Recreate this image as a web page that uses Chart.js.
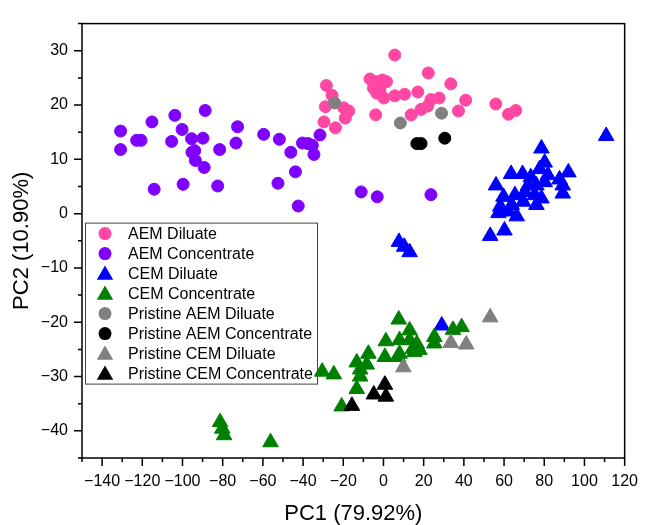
<!DOCTYPE html>
<html lang="en">
<head>
<meta charset="UTF-8">
<style>
body {
    margin: 0;
    background: #fff;
}
.chart-container {
    position: relative;
    width: 652px;
    height: 525px;
}
</style>
</head>
<body>
<div class="chart-container">
<canvas id="pcaChart"></canvas>
</div>
<script src="https://cdn.jsdelivr.net/npm/chart.js"></script>
<script>
// series
const seriesNames = ['AEM Diluate', 'AEM Concentrate', 'CEM Diluate', 'CEM Concentrate',
    'Pristine AEM Diluate', 'Pristine AEM Concentrate', 'Pristine CEM Diluate', 'Pristine CEM Concentrate'];
const seriesColors = ['#ff47a3', '#8000ff', '#0000ff', '#008000', '#808080', '#000000', '#808080', '#000000'];
const seriesShapes = ['circle', 'circle', 'triangle', 'triangle', 'circle', 'circle', 'triangle', 'triangle'];

// PC1 / PC2 scores
const aemDiluateX = [-28.4, -25.6, -28.9, -19.8, -17.3, -19.0, -29.6, -23.9, 5.6, -6.7, -3.4, -0.5, 1.5, -5.0, -1.8, 0.2, -3.4,
    5.6, 10.5, 17.1, 22.3, 33.5, 23.6, 27.7, 22.0, 18.7, 13.8, -3.9, 40.9, 37.3, 55.9, 62.2, 65.8];
const aemDiluateY = [23.6, 21.8, 19.7, 19.5, 18.9, 17.6, 16.9, 15.8, 29.2, 24.8, 24.3, 24.6, 24.3, 23.1, 22.8, 21.3, 22.2,
    21.7, 22.0, 22.4, 25.9, 23.9, 21.0, 21.3, 19.8, 19.2, 18.2, 18.2, 20.9, 18.9, 20.2, 18.3, 19.0];

const aemConcX = [-130.8, -130.8, -122.8, -120.6, -115.2, -114.1, -103.8, -105.4, -100.2, -99.7, -95.5, -95.3, -93.9, -93.6,
    -88.7, -89.8, -89.2, -81.5, -82.5, -72.6, -73.4, -59.6, -51.8, -52.5, -46.1, -43.8, -42.4, -40.3, -37.5, -35.4, -34.6,
    -31.6, -11.1, -3.1, 23.6];
const aemConcY = [15.2, 11.8, 13.5, 13.5, 16.9, 4.5, 18.1, 13.3, 15.5, 5.4, 13.8, 11.3, 11.6, 9.8,
    19.0, 13.9, 8.5, 11.8, 5.1, 16.0, 13.0, 14.6, 13.7, 5.6, 11.3, 7.7, 1.4, 13.0, 12.9, 12.6, 10.9,
    14.5, 4.0, 3.1, 3.5];

const cemDiluateX = [78.6, 80.2, 77.7, 63.5, 69.2, 73.3, 81.8, 87.6, 92.0, 56.0, 72.0, 76.1, 80.2, 89.2, 89.2, 59.7, 65.4,
    70.4, 75.3, 78.6, 58.1, 63.8, 69.5, 76.1, 57.2, 62.2, 66.3, 53.1, 60.2, 110.8, 7.7, 10.3, 13.0, 29.0];
const cemDiluateY = [12.0, 9.4, 8.2, 7.3, 7.3, 6.7, 7.1, 6.3, 7.6, 5.2, 5.2, 5.2, 5.8, 5.2, 3.7, 3.1, 3.4,
    4.0, 3.4, 2.8, 1.3, 1.6, 2.2, 1.6, 0.1, 0.4, -0.5, -4.1, -3.1, 14.3, -5.2, -6.1, -7.1, -20.6];

const cemConcX = [7.6, 13.0, 1.2, 8.0, 13.0, 16.6, 25.3, 25.3, 17.9, 34.6, 38.9, -7.5, -13.3, 0.7, 7.2, 15.4, -8.3,
    -11.6, -11.6, -30.5, -24.7, -13.3, -20.8, -81.3, -80.2, -79.3, -56.2, 8.0, 14.6];
const cemConcY = [-19.5, -21.5, -23.5, -23.3, -23.3, -24.0, -22.7, -23.9, -25.1, -21.4, -20.9, -25.8, -27.4, -26.4, -26.4, -25.5, -27.8,
    -28.7, -30.0, -29.1, -29.6, -32.3, -35.5, -38.4, -39.6, -40.8, -42.1, -25.8, -24.9];

const pristineAemDilX = [-24.3, 8.4, 28.9];
const pristineAemDilY = [20.4, 16.7, 18.5];
const pristineAemConcX = [16.6, 18.7, 30.5];
const pristineAemConcY = [12.9, 12.9, 13.9];
const pristineCemDilX = [9.9, 33.5, 41.2, 53.1];
const pristineCemDilY = [-28.3, -23.8, -24.1, -19.1];
const pristineCemConcX = [0.7, -4.8, 1.2, -15.7];
const pristineCemConcY = [-31.5, -33.3, -33.7, -35.4];

// axis ticks
const xTicks = [-150, -140, -130, -120, -110, -100, -90, -80, -70, -60, -50, -40, -30, -20, -10,
    0, 10, 20, 30, 40, 50, 60, 70, 80, 90, 100, 110, 120];
const yTicks = [-45, -40, -35, -30, -25, -20, -15, -10, -5, 0, 5, 10, 15, 20, 25, 30, 35];

const seriesX = [aemDiluateX, aemConcX, cemDiluateX, cemConcX, pristineAemDilX, pristineAemConcX, pristineCemDilX, pristineCemConcX];
const seriesY = [aemDiluateY, aemConcY, cemDiluateY, cemConcY, pristineAemDilY, pristineAemConcY, pristineCemDilY, pristineCemConcY];

const fontFamily = "'Liberation Sans', Arial, sans-serif";
const minus = (v) => String(v).replace('-', '\u2212');

const datasets = seriesNames.map((name, i) => ({
    label: name,
    data: seriesX[i].map((x, j) => ({ x: x, y: seriesY[i][j] })),
    pointStyle: seriesShapes[i],
    pointRadius: seriesShapes[i] === 'circle' ? 6 : 9,
    pointHoverRadius: seriesShapes[i] === 'circle' ? 6 : 9,
    backgroundColor: seriesColors[i],
    borderColor: seriesColors[i],
    borderWidth: 1,
    order: seriesNames.length - i   // later series on top
}));

// box + outward ticks (long = labelled, short = minor)
const frameTicks = {
    id: 'frameTicks',
    afterDraw(chart) {
        const { ctx, chartArea: a } = chart;
        const x = chart.scales.x, y = chart.scales.y;
        ctx.save();
        ctx.strokeStyle = '#000';
        ctx.lineWidth = 1.5;
        ctx.strokeRect(a.left, a.top, a.right - a.left, a.bottom - a.top);
        ctx.beginPath();
        x.ticks.forEach(t => {
            const px = x.getPixelForValue(t.value);
            const len = t.value % 20 === 0 ? 8 : 4;
            ctx.moveTo(px, a.bottom);
            ctx.lineTo(px, a.bottom + len);
        });
        y.ticks.forEach(t => {
            const py = y.getPixelForValue(t.value);
            const len = t.value % 10 === 0 ? 8 : 4;
            ctx.moveTo(a.left, py);
            ctx.lineTo(a.left - len, py);
        });
        ctx.stroke();
        ctx.restore();
    }
};

// legend box inside the plot
const boxLegend = {
    id: 'boxLegend',
    beforeDatasetsDraw(chart) {
        const { ctx, chartArea: a } = chart;
        const left = a.left + 3, top = a.top + 199;
        const w = 232, h = 161;
        ctx.save();
        ctx.fillStyle = '#fff';
        ctx.fillRect(left, top, w, h);
        ctx.strokeStyle = '#444';
        ctx.lineWidth = 1;
        ctx.strokeRect(left + 0.5, top + 0.5, w, h);
        ctx.font = '16px ' + fontFamily;
        ctx.textBaseline = 'middle';
        seriesNames.forEach((name, i) => {
            const cy = top + 11 + i * 20;
            const cx = left + 20;
            ctx.fillStyle = seriesColors[i];
            ctx.beginPath();
            if (seriesShapes[i] === 'circle') {
                ctx.arc(cx, cy, 6.5, 0, Math.PI * 2);
            } else {
                const r = 9.5;
                ctx.moveTo(cx, cy - r + 1.5);
                ctx.lineTo(cx + r * 0.866, cy + r / 2 + 1.5);
                ctx.lineTo(cx - r * 0.866, cy + r / 2 + 1.5);
                ctx.closePath();
            }
            ctx.fill();
            ctx.fillStyle = '#000';
            ctx.fillText(name, left + 43, cy + 1);
        });
        ctx.restore();
    }
};

const ctx = document.getElementById('pcaChart').getContext('2d');
const pcaChart = new Chart(ctx, {
    type: 'scatter',
    data: { datasets: datasets },
    options: {
        responsive: true,
        maintainAspectRatio: false,
        animation: false,
        layout: { padding: { top: 14, right: 21, left: 0, bottom: 0 } },
        scales: {
            x: {
                min: -150,
                max: 120,
                afterBuildTicks: (scale) => { scale.ticks = xTicks.map(v => ({ value: v })); },
                afterFit: (scale) => { scale.height = 67; },
                grid: { display: false, drawTicks: false },
                border: { display: false },
                ticks: {
                    autoSkip: false,
                    maxRotation: 0,
                    padding: 14,
                    color: '#000',
                    font: { family: fontFamily, size: 16 },
                    callback: (v) => (v % 20 === 0 ? minus(v) : '')
                },
                title: {
                    display: true,
                    text: 'PC1 (79.92%)',
                    color: '#000',
                    font: { family: fontFamily, size: 22, lineHeight: 1 },
                    padding: { top: 0, bottom: 0 }
                }
            },
            y: {
                min: -45,
                max: 35,
                afterBuildTicks: (scale) => { scale.ticks = yTicks.map(v => ({ value: v })); },
                afterFit: (scale) => { scale.width = 82; },
                grid: { display: false, drawTicks: false },
                border: { display: false },
                ticks: {
                    autoSkip: false,
                    padding: 14,
                    color: '#000',
                    font: { family: fontFamily, size: 16 },
                    callback: (v) => (v % 10 === 0 ? minus(v) : '')
                },
                title: {
                    display: true,
                    text: 'PC2 (10.90%)',
                    color: '#000',
                    font: { family: fontFamily, size: 22, lineHeight: 1 },
                    padding: { top: 11, bottom: 0 }
                }
            }
        },
        plugins: {
            legend: { display: false },
            tooltip: { enabled: false }
        }
    },
    plugins: [frameTicks, boxLegend]
});
</script>
</body>
</html>
